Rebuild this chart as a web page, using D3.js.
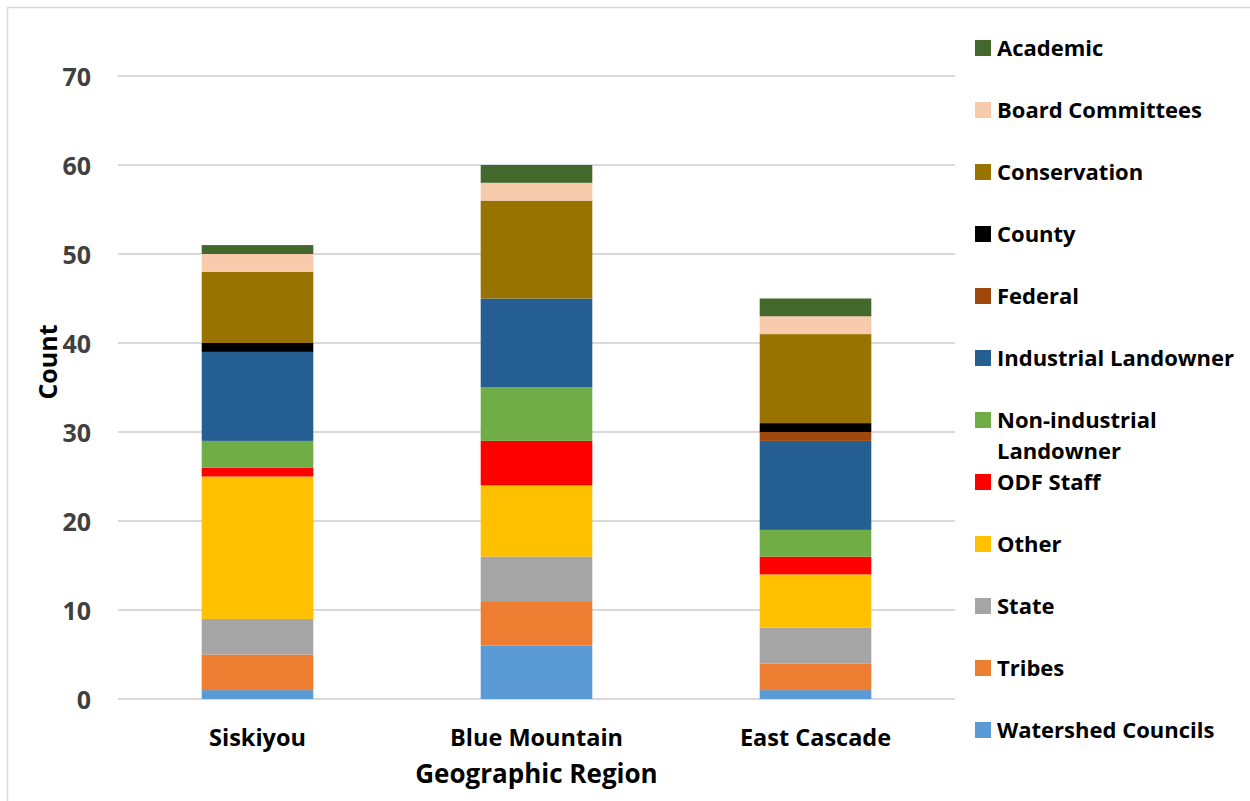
<!DOCTYPE html>
<html>
<head>
<meta charset="utf-8">
<script src="https://cdn.jsdelivr.net/npm/d3@7"></script>
<style>
  body { margin: 0; background: #fff; }
  text { font-family: "Open Sans", Lato, "Liberation Sans", sans-serif; font-weight: bold; }
</style>
</head>
<body>
<svg id="chart" width="1250" height="801"></svg>
<script>
// regions along the x axis
const regions = ["Siskiyou", "Blue Mountain", "East Cascade"];

// series, bottom to top of each stack
const seriesNames = ["Watershed Councils", "Tribes", "State", "Other", "ODF Staff",
    "Non-industrial Landowner", "Industrial Landowner", "Federal", "County",
    "Conservation", "Board Committees", "Academic"];

// counts per region (Siskiyou, Blue Mountain, East Cascade)
const watershed = [1, 6, 1];
const tribes = [4, 5, 3];
const state = [4, 5, 4];
const other = [16, 8, 6];
const odfStaff = [1, 5, 2];
const nonIndustrial = [3, 6, 3];
const industrial = [10, 10, 10];
const federal = [0, 0, 1];
const county = [1, 0, 1];
const conservation = [8, 11, 10];
const board = [2, 2, 2];
const academic = [1, 2, 2];

const yTicks = [0, 10, 20, 30, 40, 50, 60, 70];

const colors = ["#5b9bd5", "#ed7d31", "#a5a5a5", "#ffc000", "#ff0000", "#70ad47",
    "#255e91", "#9e480e", "#000000", "#997300", "#f8cbad", "#43682b"];

const seriesValues = [watershed, tribes, state, other, odfStaff, nonIndustrial,
    industrial, federal, county, conservation, board, academic];

// build rows for d3.stack
const rows = regions.map((r, i) => {
    const row = { region: r };
    seriesNames.forEach((s, j) => { row[s] = seriesValues[j][i]; });
    return row;
});

const svg = d3.select("#chart");

// outer frame
svg.append("rect")
    .attr("x", 7.5).attr("y", 7.5)
    .attr("width", 1260).attr("height", 820)
    .attr("fill", "none")
    .attr("stroke", "#d9d9d9")
    .attr("stroke-width", 1.5);

const plot = { left: 118, right: 955, top: 76, bottom: 699 };

const x = d3.scaleBand()
    .domain(regions)
    .range([plot.left, plot.right])
    .paddingInner(0.6)
    .paddingOuter(0.3);

const y = d3.scaleLinear()
    .domain([0, 70])
    .range([plot.bottom, plot.top]);

// gridlines
svg.append("g")
    .selectAll("line")
    .data(yTicks)
    .join("line")
    .attr("x1", plot.left).attr("x2", plot.right)
    .attr("y1", d => y(d)).attr("y2", d => y(d))
    .attr("stroke", "#d9d9d9")
    .attr("stroke-width", 2);

// y axis labels
const yAxis = svg.append("g")
    .attr("transform", `translate(91,0)`)
    .call(d3.axisLeft(y).tickValues(yTicks).tickSize(0).tickPadding(0));
yAxis.select(".domain").remove();
yAxis.selectAll("text")
    .attr("fill", "#404040")
    .style("font-size", "25px")
    .attr("dy", "0.36em");

// x axis labels
const xAxis = svg.append("g")
    .attr("transform", `translate(0,746)`)
    .call(d3.axisBottom(x).tickSize(0).tickPadding(0));
xAxis.select(".domain").remove();
xAxis.selectAll("text")
    .attr("y", 0)
    .attr("dy", 0)
    .attr("fill", "#000")
    .style("font-size", "23.5px");

// stacked bars
const stacked = d3.stack().keys(seriesNames)(rows);

svg.append("g")
    .selectAll("g")
    .data(stacked)
    .join("g")
    .attr("fill", (d, i) => colors[i])
    .selectAll("rect")
    .data(d => d)
    .join("rect")
    .attr("x", d => x(d.data.region))
    .attr("width", x.bandwidth())
    .attr("y", d => y(d[1]))
    .attr("height", d => y(d[0]) - y(d[1]));

// axis titles
svg.append("text")
    .attr("transform", `translate(57,362) rotate(-90)`)
    .attr("text-anchor", "middle")
    .attr("fill", "#000")
    .style("font-size", "25px")
    .text("Count");

svg.append("text")
    .attr("x", x("Blue Mountain") + x.bandwidth() / 2)
    .attr("y", 783)
    .attr("text-anchor", "middle")
    .attr("fill", "#000")
    .style("font-size", "26px")
    .text("Geographic Region");

// legend, top entry is the top of the stack
const legendOrder = seriesNames.slice().reverse();
const legend = svg.append("g").attr("transform", "translate(975,0)");
const item = legend.selectAll("g")
    .data(legendOrder)
    .join("g")
    .attr("transform", (d, i) => `translate(0,${48 + i * 62})`);

item.append("rect")
    .attr("x", 0).attr("y", -8)
    .attr("width", 16).attr("height", 16)
    .attr("fill", d => colors[seriesNames.indexOf(d)]);

item.append("text")
    .attr("x", 22)
    .attr("dy", "0.36em")
    .attr("fill", "#000")
    .style("font-size", "22px")
    .each(function (d) {
        const t = d3.select(this);
        if (d === "Non-industrial Landowner") {
            t.append("tspan").attr("x", 22).attr("dy", "0.36em").text("Non-industrial");
            t.append("tspan").attr("x", 22).attr("dy", "1.4em").text("Landowner");
        } else {
            t.text(d);
        }
    });
</script>
</body>
</html>
